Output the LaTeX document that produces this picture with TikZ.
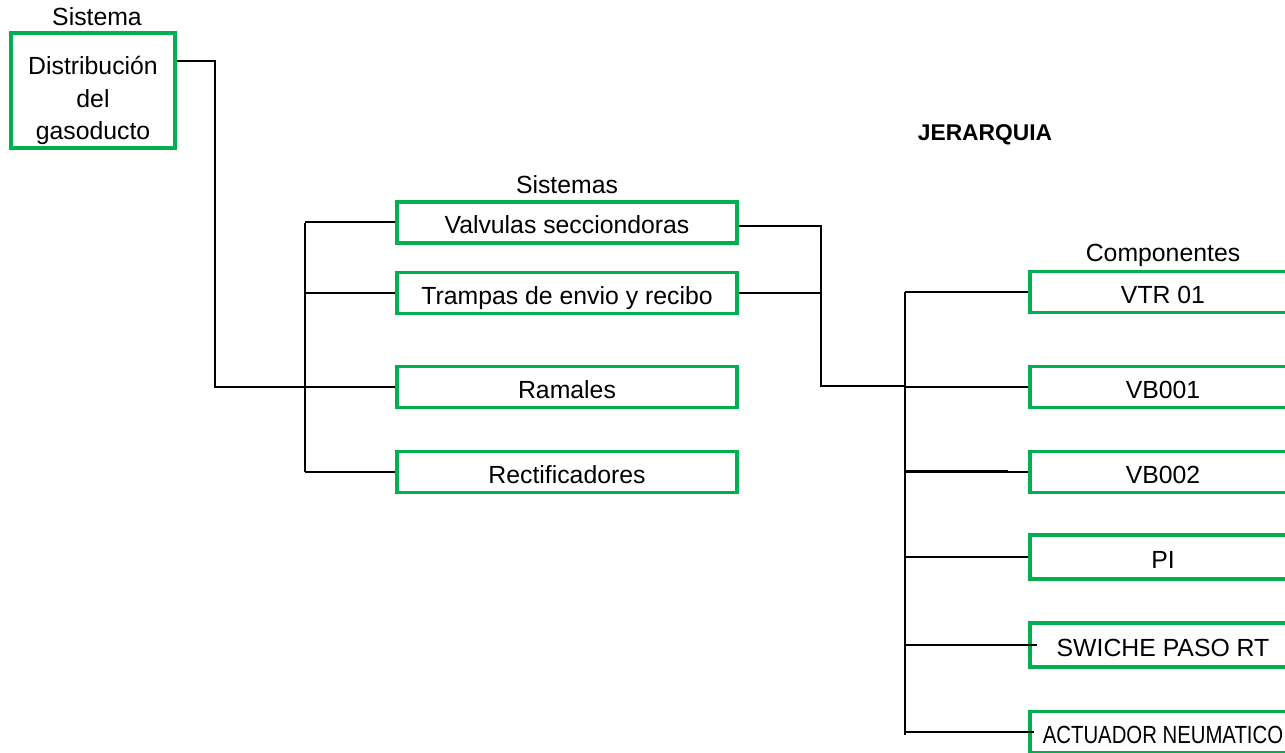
\documentclass[tikz,border=0pt]{standalone}
\usepackage{fontspec}
\setmainfont{Liberation Sans}
\usetikzlibrary{calc}
\definecolor{boxgreen}{RGB}{0,176,80}
\begin{document}
\begin{tikzpicture}[x=0.5pt,y=-0.5pt,
  box/.style={draw=boxgreen,line width=1.8pt,rectangle,inner sep=0pt,align=center,
    font=\fontsize{12.4}{16.3}\selectfont},
  sysbox/.style={box,minimum width=170pt,minimum height=20.5pt,text height=11.5pt,text depth=0pt},
  compbox/.style={box,minimum width=133pt,minimum height=20.5pt,text height=11.5pt,text depth=0pt},
  lbl/.style={inner sep=0pt,font=\fontsize{12.4}{14.9}\selectfont},
  conn/.style={draw=black,line width=1pt}]
\useasboundingbox (0,0) rectangle (1285,753);
\clip (0,0) rectangle (1285,753);
% titles
\node[lbl] (tsis) at (97,17) {Sistema};
\node[lbl] (tsiss) at (567,185) {Sistemas};
\node[lbl] (tcomp) at (1163,255) {Componentes};
\node[lbl,font=\bfseries\fontsize{11.4}{13}\selectfont] (tjer) at (985,135) {JERARQUIA};
% top box
\node[box,minimum width=82pt,minimum height=57.5pt,text height=49.5pt,text depth=0pt] (dist) at (93,90.5) {Distribución\\del\\gasoducto};
% systems
\node[sysbox] (valv) at (567,222.5) {Valvulas secciondoras};
\node[sysbox] (tramp) at (567,293) {Trampas de envio y recibo};
\node[sysbox] (ram) at (567,387) {Ramales};
\node[sysbox] (rect) at (567,472) {Rectificadores};
% components
\node[compbox] (vtr) at (1163,292) {VTR 01};
\node[compbox] (vb1) at (1163,387) {VB001};
\node[compbox] (vb2) at (1163,472) {VB002};
\node[compbox,minimum height=22pt] (pi) at (1163,557) {PI};
\node[compbox,minimum height=22pt] (sw) at (1163,645) {SWICHE PASO RT};
\node[compbox] (act) at (1163,732) {\scalebox{0.82}[1]{ACTUADOR NEUMATICO}};
% junction coordinates
\coordinate (j1) at (215,61);
\coordinate (b1) at (305,223);
\coordinate (b1e) at (305,472);
\coordinate (j2) at (821,226);
\coordinate (j2e) at (821,386);
\coordinate (b2) at (905,292);
\coordinate (b2e) at (905,735);
% connectors
\draw[conn] (dist.east |- j1) -- (j1) -- (j1 |- ram.west) -- (ram.west);
\draw[conn] (b1) -- (b1e);
\draw[conn] (b1 |- valv.west) -- (valv.west);
\draw[conn] (b1 |- tramp.west) -- (tramp.west);
\draw[conn] (b1 |- rect.west) -- (rect.west);
\draw[conn] (valv.east |- j2) -- (j2) -- (j2e) -- (b2 |- j2e);
\draw[conn] (tramp.east) -- (j2 |- tramp.east);
\draw[conn] (b2) -- (b2e);
\draw[conn] (b2) -- (vtr.west);
\draw[conn] (b2 |- vb1.west) -- (vb1.west);
\draw[conn] (b2 |- vb2.west) -- (vb2.west);
\draw[conn,line width=1.5pt] (b2 |- vb2.west) -- ($(vb2.west)+(-20,0)$);
\draw[conn] (b2 |- pi.west) -- (pi.west);
\draw[conn] (b2 |- sw.west) -- ($(sw.west)+(9,0)$);
\draw[conn] (b2 |- act.west) -- ($(act.west)+(6,0)$);
\end{tikzpicture}
\end{document}
